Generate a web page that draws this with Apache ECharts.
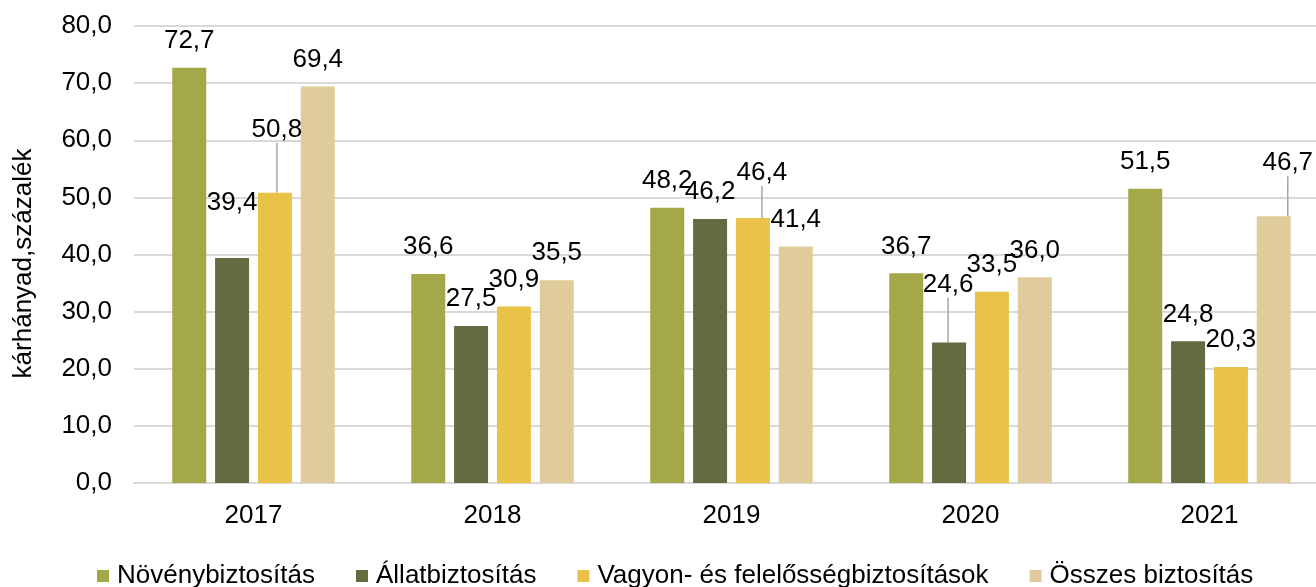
<!DOCTYPE html>
<html>
<head>
<meta charset="utf-8">
<script src="https://cdn.jsdelivr.net/npm/echarts@6/dist/echarts.min.js"></script>
<style>
  html, body { margin: 0; padding: 0; background: #fff; }
  #chart_main { width: 1316px; height: 587px; }
</style>
</head>
<body>
<div id="chart_main"></div>
<script>
var fontsty = "'Liberation Sans', Arial, sans-serif";

var years = ['2017', '2018', '2019', '2020', '2021'];
var noveny = [72.7, 36.6, 48.2, 36.7, 51.5];
var allat = [39.4, 27.5, 46.2, 24.6, 24.8];
var vagyon = [50.8, 30.9, 46.4, 33.5, 20.3];
var osszes = [69.4, 35.5, 41.4, 36.0, 46.7];
var yTicks = [0, 10, 20, 30, 40, 50, 60, 70, 80];

// label nudges (dx, dy) for the labels moved by hand in the original
var shift_noveny = [[0, 0], [0, 0], [0, 0], [0, 0], [0, 0]];
var shift_allat = [[0, -28], [0, 0], [0, 0], [-1, -25], [0, 0]];
var shift_vagyon = [[2, -30], [0, 0], [9, -12], [0, 0], [0, 0]];
var shift_osszes = [[0, 0], [0, 0], [0, 0], [0, 0], [14, -20]];
// which labels get a leader line
var line_allat = [false, false, false, true, false];
var line_vagyon = [true, false, true, false, false];
var line_osszes = [false, false, false, false, true];
var line_none = [false, false, false, false, false];

function fmt(v) {
  return v.toFixed(1).replace('.', ',');
}

function makeData(values, lines) {
  return values.map(function (v, i) {
    var item = { value: v };
    if (lines[i]) {
      item.labelLine = { show: true };
      item.label = { padding: [0, 0, 6, 0] };
    }
    return item;
  });
}

function makeSeries(name, color, values, shifts, lines) {
  return {
    name: name,
    type: 'bar',
    barWidth: 34,
    barGap: '26%',
    itemStyle: { color: color },
    label: {
      show: true,
      position: 'top',
      distance: 14,
      color: '#000',
      fontSize: 26,
      fontFamily: fontsty,
      formatter: function (p) { return fmt(p.value); }
    },
    labelLine: {
      show: false,
      lineStyle: { color: '#a6a6a6', width: 1.5 }
    },
    labelLayout: function (params) {
      var s = shifts[params.dataIndex] || [0, 0];
      return { dx: s[0], dy: s[1] };
    },
    data: makeData(values, lines)
  };
}

var myChart = echarts.init(document.getElementById('chart_main'));
var option = {
  animation: false,
  backgroundColor: '#fff',
  grid: { left: 134, right: -13, top: 26, bottom: 104, outerBoundsMode: 'none' },
  legend: {
    left: 92,
    top: 558,
    itemWidth: 12,
    itemHeight: 12,
    itemGap: 41,
    icon: 'rect',
    textStyle: { fontSize: 26, fontFamily: fontsty, color: '#000', padding: [0, 0, 0, 3] }
  },
  xAxis: {
    type: 'category',
    data: years,
    axisTick: { show: false },
    axisLine: { lineStyle: { color: '#d9d9d9', width: 2 } },
    axisLabel: { margin: 20, fontSize: 26, fontFamily: fontsty, color: '#000' }
  },
  yAxis: {
    type: 'value',
    min: yTicks[0],
    max: yTicks[yTicks.length - 1],
    interval: 10,
    name: 'kárhányad,százalék',
    nameLocation: 'middle',
    nameGap: 97,
    nameTextStyle: { fontSize: 26, fontFamily: fontsty, color: '#000', padding: [0, 18, 0, 0] },
    axisLine: { show: false },
    axisTick: { show: false },
    splitLine: { lineStyle: { color: '#d9d9d9', width: 2 } },
    axisLabel: {
      margin: 22,
      fontSize: 26,
      fontFamily: fontsty,
      color: '#000',
      formatter: function (v) { return fmt(v); }
    }
  },
  series: [
    makeSeries('Növénybiztosítás', '#a5a848', noveny, shift_noveny, line_none),
    makeSeries('Állatbiztosítás', '#636b40', allat, shift_allat, line_allat),
    makeSeries('Vagyon- és felelősségbiztosítások', '#e8c348', vagyon, shift_vagyon, line_vagyon),
    makeSeries('Összes biztosítás', '#e0cc9a', osszes, shift_osszes, line_osszes)
  ]
};
myChart.setOption(option);
</script>
</body>
</html>
